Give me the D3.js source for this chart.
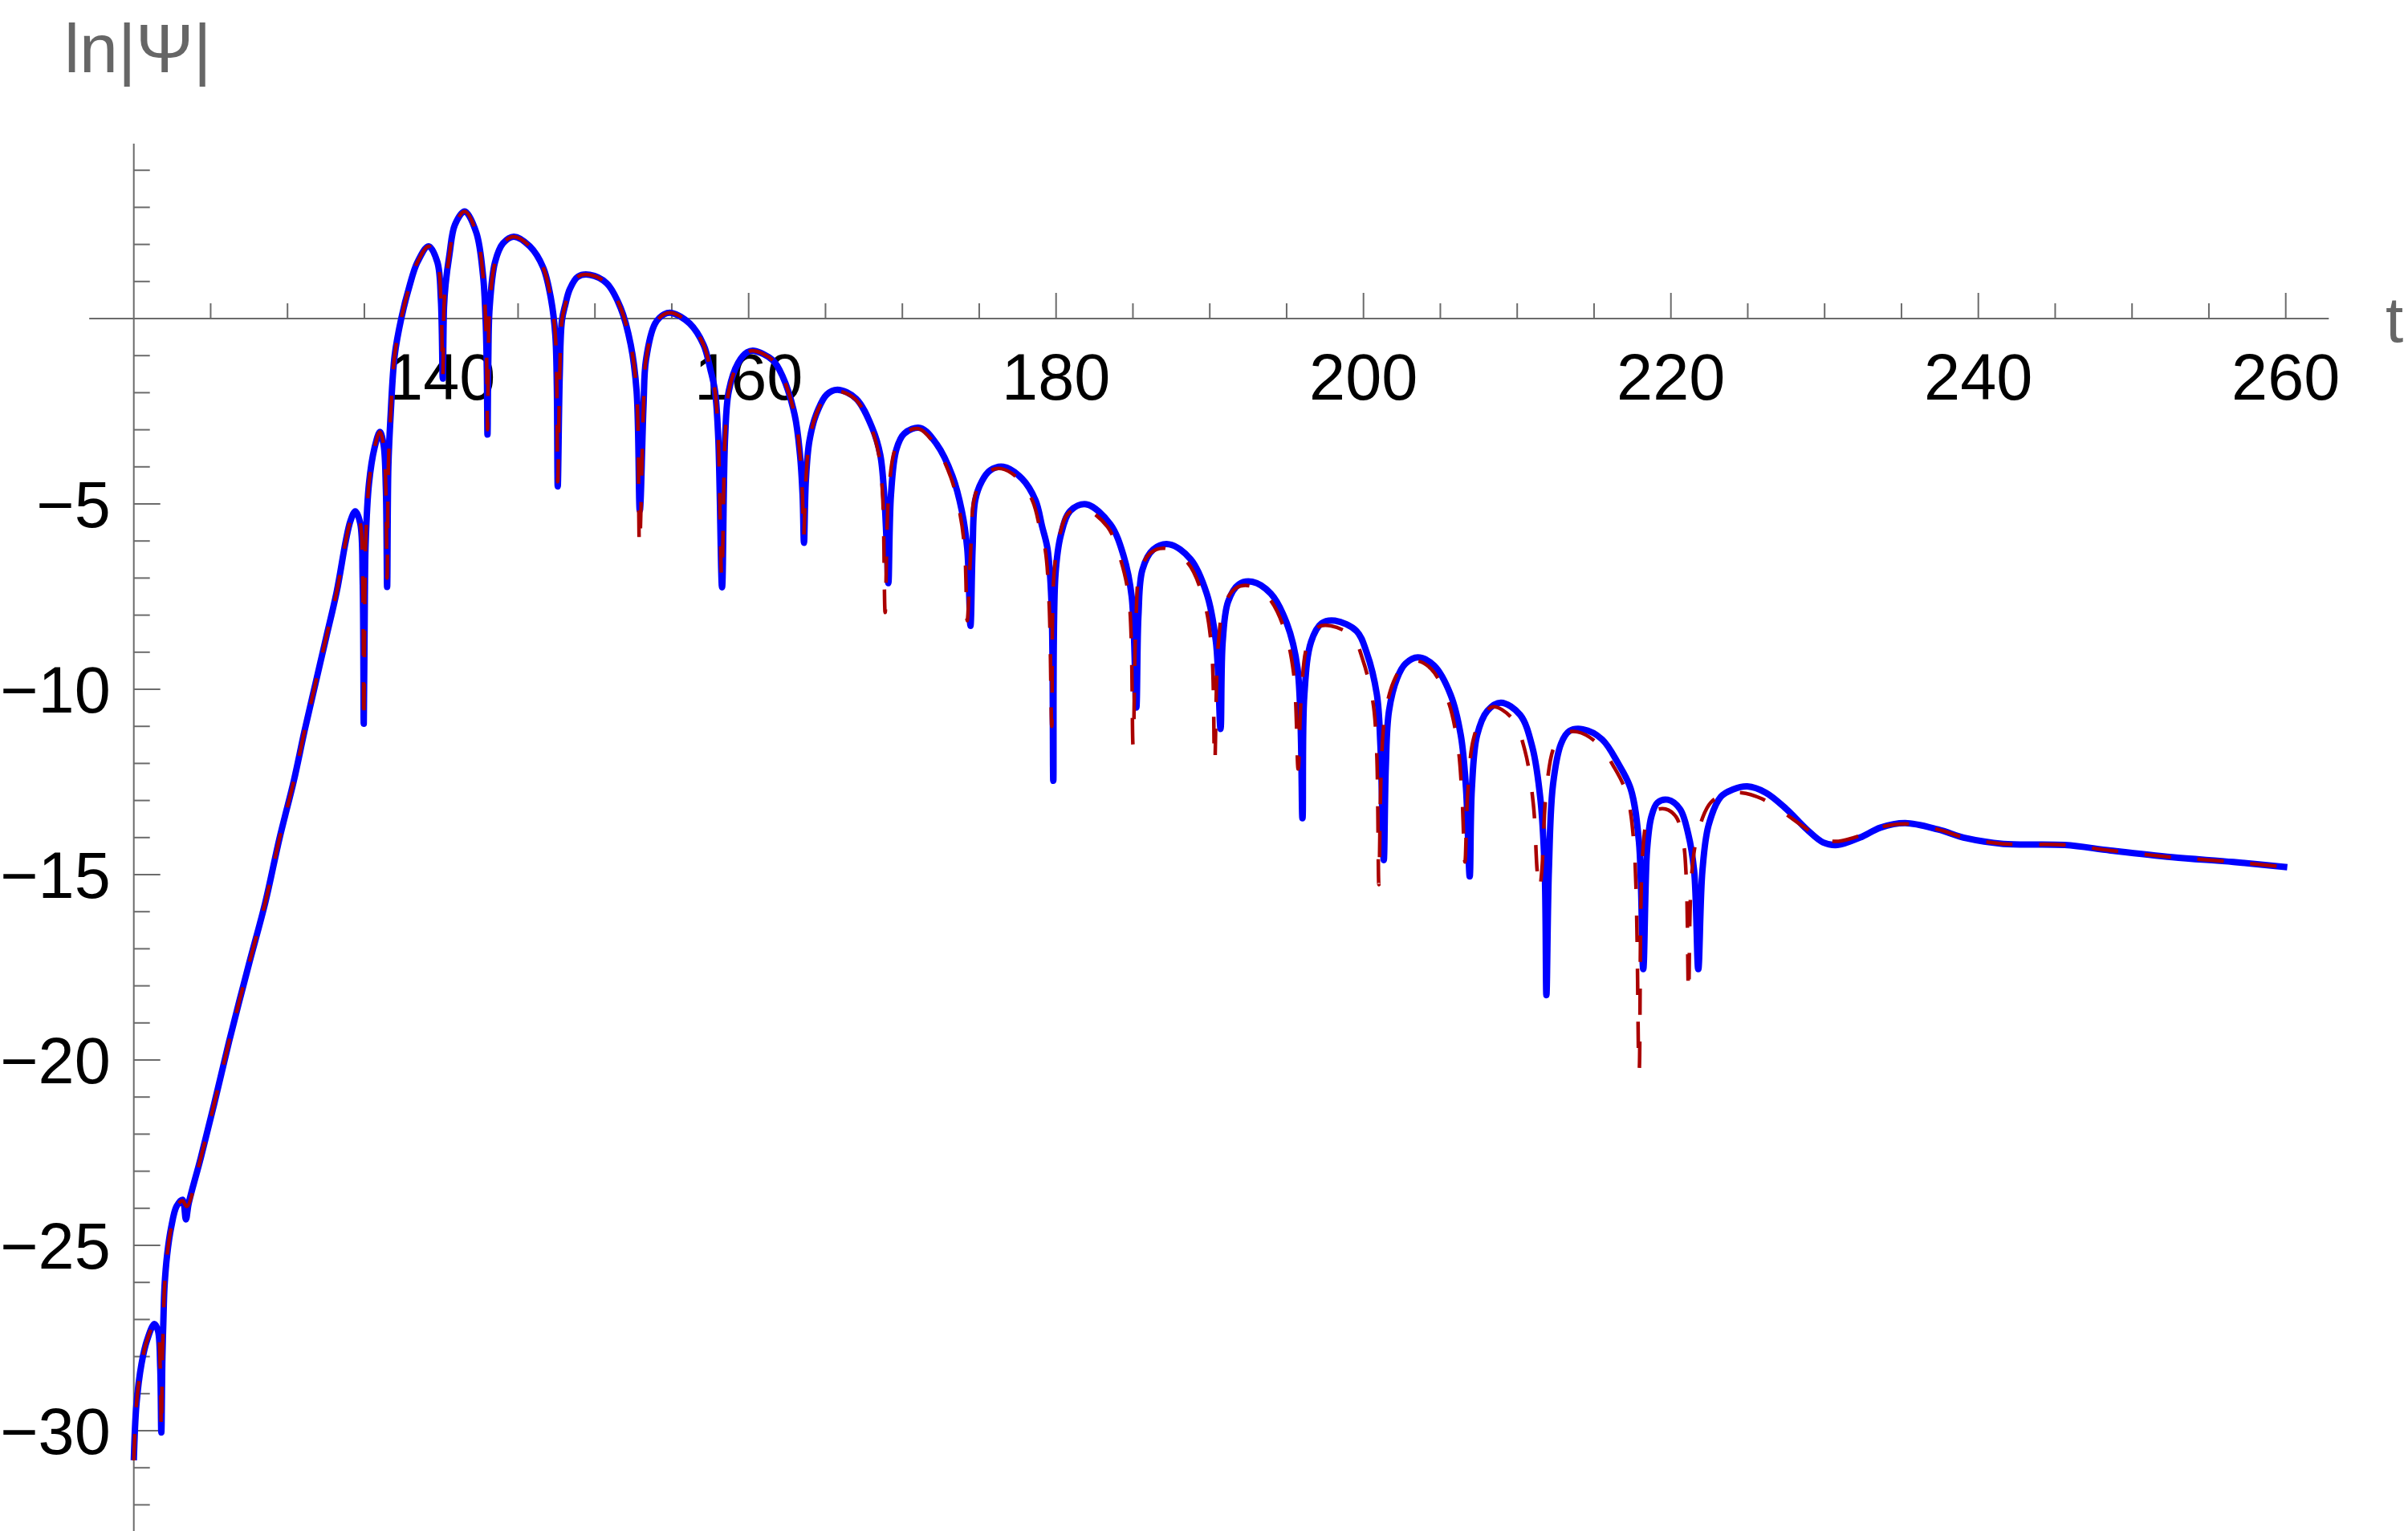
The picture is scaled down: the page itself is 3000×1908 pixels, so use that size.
<!DOCTYPE html>
<html>
<head>
<meta charset="utf-8">
<script src="https://cdn.jsdelivr.net/npm/d3@7"></script>
<style>
  html, body { margin: 0; padding: 0; background: #fff; }
  svg { display: block; }
  text { font-family: "Liberation Sans", Arial, sans-serif; }
</style>
</head>
<body>
<svg id="chart" width="3000" height="1908"></svg>
<script>
// ---- data: [t, ln|Psi|] ----
const blueSeries = [
[120.0,-30.8],[120.17,-29.3],[120.5,-28.2],[120.87,-27.55],[121.34,-27.12],[121.57,-27.3],[121.72,-28.3],[121.79,-30.05],[121.86,-28.0],[121.92,-27.1],
[122.0,-26.1],[122.17,-25.25],[122.43,-24.52],[122.78,-23.95],[123.17,-23.77],[123.39,-24.3],[123.57,-23.87],[124.35,-22.65],[125.22,-21.2],[126.2,-19.5],
[127.5,-17.4],[128.55,-15.76],[129.48,-14.02],[130.41,-12.47],[131.11,-11.12],[131.81,-9.86],[132.51,-8.61],[133.21,-7.35],[133.79,-6.0],[134.1,-5.45],
[134.41,-5.2],[134.73,-5.52],[134.89,-7.06],[134.96,-10.93],[135.03,-7.5],[135.08,-6.1],[135.3,-4.45],[135.66,-3.49],[136.01,-3.06],[136.25,-3.4],
[136.4,-4.6],[136.48,-7.24],[136.56,-4.0],[136.71,-2.59],[136.97,-1.0],[137.4,0.0],[137.93,0.87],[138.45,1.52],[139.18,1.95],[139.75,1.52],
[139.98,0.5],[140.1,-1.62],[140.18,0.3],[140.28,0.9],[140.54,1.74],[140.89,2.53],[141.53,2.89],[142.28,2.32],[142.72,1.16],[142.89,-0.06],
[142.97,-1.5],[143.01,-3.13],[143.06,-1.2],[143.15,0.3],[143.5,1.52],[144.02,2.03],[144.72,2.21],[145.76,1.95],[146.63,1.38],[147.15,0.51],
[147.42,-0.43],[147.52,-1.8],[147.58,-4.53],[147.71,-1.53],[147.85,-0.06],[148.07,0.37],[148.37,0.8],[148.89,1.13],[149.66,1.18],[150.77,0.95],
[151.67,0.29],[152.33,-0.71],[152.71,-1.95],[152.92,-5.18],[153.16,-2.36],[153.32,-1.12],[153.92,-0.13],[154.52,0.12],[155.02,0.15],[156.16,-0.13],
[157.07,-0.71],[157.51,-1.37],[157.81,-1.95],[158.02,-3.19],[158.27,-7.25],[158.47,-3.19],[158.71,-1.95],[159.31,-1.2],[159.91,-0.91],[160.36,-0.87],
[161.56,-1.12],[162.2,-1.55],[162.99,-2.59],[163.34,-3.67],[163.51,-4.76],[163.6,-6.05],[163.72,-4.39],[163.95,-3.31],[164.39,-2.59],[165.08,-2.05],
[165.78,-1.92],[166.99,-2.16],[168.04,-2.95],[168.56,-3.67],[168.82,-4.76],[168.99,-6.2],[169.09,-7.14],[169.26,-4.75],[169.61,-3.53],[170.13,-3.1],
[171.17,-2.95],[172.22,-3.38],[173.26,-4.25],[173.87,-5.19],[174.22,-6.2],[174.43,-8.29],[174.57,-6.2],[174.74,-4.9],[175.17,-4.39],[175.7,-4.1],
[176.57,-4.0],[177.79,-4.32],[178.66,-4.9],[179.1,-5.62],[179.44,-6.2],[179.7,-7.64],[179.82,-12.47],[179.96,-6.92],[180.31,-5.84],[180.92,-5.19],
[181.97,-5.01],[183.53,-5.55],[184.4,-6.41],[184.92,-7.5],[185.22,-10.49],[185.36,-8.0],[185.62,-6.77],[186.32,-6.23],[187.36,-6.09],[188.75,-6.49],
[189.8,-7.42],[190.4,-8.72],[190.7,-11.07],[190.84,-8.72],[191.19,-7.64],[191.89,-7.17],[192.76,-7.1],[193.97,-7.42],[195.01,-8.22],[195.71,-9.44],
[196.03,-13.48],[196.15,-10.17],[196.59,-8.72],[197.28,-8.22],[198.15,-8.15],[199.55,-8.43],[200.2,-9.0],[200.87,-10.14],[201.1,-11.5],[201.32,-14.61],
[201.45,-12.12],[201.66,-10.58],[202.2,-9.69],[202.73,-9.31],[203.53,-9.14],[204.59,-9.36],[205.66,-10.14],[206.33,-11.24],[206.67,-12.68],[206.91,-15.05],
[207.05,-12.68],[207.39,-11.24],[208.06,-10.58],[208.94,-10.36],[210.19,-10.69],[210.99,-11.57],[211.52,-13.0],[211.79,-14.89],[211.9,-18.25],[212.06,-14.89],
[212.33,-12.57],[212.86,-11.46],[213.39,-11.13],[214.27,-11.08],[215.52,-11.35],[216.58,-12.01],[217.38,-12.68],[217.92,-14.11],[218.2,-17.55],[218.45,-14.33],
[218.72,-13.45],[219.12,-13.06],[219.79,-12.98],[220.59,-13.23],[221.12,-13.89],[221.51,-14.89],[221.78,-17.55],[222.05,-14.89],[222.45,-13.67],[223.25,-12.9],
[224.05,-12.7],[224.97,-12.62],[226.18,-12.79],[227.51,-13.23],[228.84,-13.78],[229.9,-14.13],[230.84,-14.2],[232.3,-14.0],[233.64,-13.73],[235.24,-13.61],
[237.37,-13.78],[239.23,-14.02],[241.63,-14.17],[245.62,-14.2],[248.61,-14.35],[252.61,-14.53],[256.6,-14.66],[260.1,-14.8]
];

const redSeries = [
[120.0,-30.8],[120.17,-29.3],[120.5,-28.2],[120.87,-27.55],[121.34,-27.12],[121.57,-27.3],[121.72,-28.3],[121.79,-30.0],[121.86,-28.0],[121.92,-27.1],
[122.0,-26.1],[122.17,-25.25],[122.43,-24.52],[122.78,-23.95],[123.17,-23.8],[123.45,-23.95],[124.35,-22.65],[125.22,-21.2],[126.2,-19.5],[127.5,-17.4],
[128.55,-15.76],[129.48,-14.02],[130.41,-12.47],[131.11,-11.12],[131.81,-9.86],[132.51,-8.61],[133.21,-7.35],[133.79,-6.0],[134.1,-5.45],[134.41,-5.2],
[134.73,-5.52],[134.89,-7.06],[134.96,-10.9],[135.03,-7.5],[135.08,-6.1],[135.3,-4.45],[135.66,-3.49],[136.01,-3.06],[136.25,-3.4],[136.4,-4.6],
[136.48,-7.0],[136.56,-4.0],[136.71,-2.59],[136.97,-1.0],[137.4,0.0],[137.93,0.87],[138.45,1.52],[139.18,1.95],[139.75,1.52],[139.98,0.5],
[140.1,-1.55],[140.18,0.3],[140.28,0.9],[140.54,1.74],[140.89,2.53],[141.53,2.89],[142.28,2.32],[142.72,1.16],[142.89,-0.06],[142.97,-1.5],
[143.01,-3.0],[143.06,-1.2],[143.15,0.3],[143.5,1.52],[144.02,2.03],[144.72,2.21],[145.76,1.95],[146.63,1.38],[147.15,0.51],[147.42,-0.43],
[147.52,-1.8],[147.58,-4.4],[147.71,-1.53],[147.85,-0.06],[148.07,0.37],[148.37,0.8],[148.89,1.13],[149.66,1.18],[150.77,0.95],[151.67,0.29],
[152.33,-0.71],[152.71,-1.95],[152.9,-6.13],[153.16,-2.36],[153.32,-1.12],[153.92,-0.13],[154.52,0.12],[155.02,0.15],[156.16,-0.13],[157.07,-0.71],
[157.51,-1.37],[157.81,-1.95],[158.02,-3.19],[158.25,-7.0],[158.47,-3.19],[158.71,-1.95],[159.31,-1.2],[159.91,-0.91],[160.36,-0.87],[161.56,-1.12],
[162.2,-1.55],[162.99,-2.59],[163.34,-3.67],[163.5,-4.76],[163.58,-5.9],[163.72,-4.39],[163.95,-3.31],[164.39,-2.59],[165.08,-2.07],[165.72,-1.95],
[166.95,-2.18],[168.0,-2.98],[168.48,-3.7],[168.72,-4.8],[168.88,-7.93],[169.1,-4.8],[169.5,-3.55],[170.05,-3.12],[171.05,-2.97],[172.12,-3.4],
[173.15,-4.28],[173.72,-5.2],[174.05,-6.2],[174.22,-8.15],[174.45,-6.2],[174.65,-4.92],[175.05,-4.42],[175.6,-4.13],[176.45,-4.05],[177.65,-4.36],
[178.5,-4.95],[178.95,-5.66],[179.3,-6.25],[179.55,-7.7],[179.72,-11.0],[179.85,-7.0],[180.2,-5.9],[180.8,-5.25],[181.79,-5.12],[183.35,-5.62],
[184.2,-6.5],[184.75,-7.6],[185.01,-11.5],[185.2,-8.1],[185.45,-6.85],[186.15,-6.32],[187.15,-6.2],[188.55,-6.58],[189.55,-7.5],[190.1,-8.8],
[190.32,-11.97],[190.55,-8.8],[190.95,-7.72],[191.7,-7.27],[192.59,-7.21],[193.8,-7.52],[194.8,-8.32],[195.45,-9.55],[195.75,-12.15],[195.95,-10.2],
[196.35,-8.8],[197.05,-8.32],[197.89,-8.29],[199.3,-8.58],[199.95,-9.2],[200.6,-10.3],[200.85,-11.6],[201.0,-15.27],[201.15,-12.2],[201.4,-10.7],
[201.95,-9.8],[202.55,-9.4],[203.4,-9.23],[204.4,-9.45],[205.45,-10.25],[206.1,-11.4],[206.4,-12.8],[206.6,-14.66],[206.78,-12.8],[207.15,-11.35],
[207.8,-10.68],[208.46,-10.47],[209.7,-10.8],[210.5,-11.65],[211.05,-13.1],[211.3,-14.9],[211.45,-15.4],[211.6,-14.9],[211.9,-12.7],[212.4,-11.55],
[213.0,-11.2],[213.92,-11.15],[215.2,-11.45],[216.3,-12.1],[217.1,-12.8],[217.6,-14.2],[217.93,-20.3],[218.15,-14.5],[218.45,-13.55],[218.9,-13.28],
[219.65,-13.23],[220.35,-13.45],[220.8,-14.1],[221.0,-15.1],[221.15,-18.2],[221.35,-15.0],[221.8,-13.8],[222.6,-13.05],[223.5,-12.85],[224.58,-12.79],
[225.9,-12.95],[227.24,-13.3],[228.6,-13.7],[229.9,-14.05],[230.9,-14.1],[232.3,-13.95],[233.64,-13.72],[235.3,-13.63],[237.37,-13.78],[239.23,-14.02],
[241.63,-14.17],[245.62,-14.2],[248.61,-14.35],[252.61,-14.53],[256.6,-14.66],[260.1,-14.8]
];

const xMajorTicks = [140, 160, 180, 200, 220, 240, 260];
const xMinorTicks = [125, 130, 135, 145, 150, 155, 165, 170, 175, 185, 190, 195, 205, 210, 215, 225, 230, 235, 245, 250, 255];
const yMajorTicks = [-5, -10, -15, -20, -25, -30];
const yMinorTicks = [4, 3, 2, 1, -1, -2, -3, -4, -6, -7, -8, -9, -11, -12, -13, -14, -16, -17, -18, -19, -21, -22, -23, -24, -26, -27, -28, -29, -31, -32];
const yLabel = "ln|Ψ|";
const xLabel = "t";

// ---- drawing ----
const svg = d3.select("#chart");
const x = d3.scaleLinear().domain([120, 260]).range([166.7, 2847.7]);
const y = d3.scaleLinear().domain([0, -30]).range([397, 1783]);
const axisColor = "#6b6b6b";
const fmt = d3.format("d");

const gAxes = svg.append("g");
gAxes.append("line").attr("x1", x(117.1)).attr("x2", x(262.8))
  .attr("y1", y(0)).attr("y2", y(0)).attr("stroke", axisColor).attr("stroke-width", 2);
gAxes.append("line").attr("x1", x(120)).attr("x2", x(120))
  .attr("y1", y(4.72)).attr("y2", 1908).attr("stroke", axisColor).attr("stroke-width", 2);

gAxes.selectAll(".xmaj").data(xMajorTicks).join("line")
  .attr("x1", d => x(d)).attr("x2", d => x(d))
  .attr("y1", y(0)).attr("y2", y(0) - 32)
  .attr("stroke", axisColor).attr("stroke-width", 2);
gAxes.selectAll(".xmin").data(xMinorTicks).join("line")
  .attr("x1", d => x(d)).attr("x2", d => x(d))
  .attr("y1", y(0)).attr("y2", y(0) - 19)
  .attr("stroke", axisColor).attr("stroke-width", 2);
gAxes.selectAll(".ymaj").data(yMajorTicks).join("line")
  .attr("x1", x(120)).attr("x2", x(120) + 33)
  .attr("y1", d => y(d)).attr("y2", d => y(d))
  .attr("stroke", axisColor).attr("stroke-width", 2);
gAxes.selectAll(".ymin").data(yMinorTicks).join("line")
  .attr("x1", x(120)).attr("x2", x(120) + 20)
  .attr("y1", d => y(d)).attr("y2", d => y(d))
  .attr("stroke", axisColor).attr("stroke-width", 2);

gAxes.selectAll(".xlab").data(xMajorTicks).join("text")
  .attr("x", d => x(d)).attr("y", y(0) + 101)
  .attr("text-anchor", "middle").attr("font-size", 81).attr("fill", "#000")
  .text(d => fmt(d));
gAxes.selectAll(".ylab").data(yMajorTicks).join("text")
  .attr("x", x(120) - 29).attr("y", d => y(d) + 29)
  .attr("text-anchor", "end").attr("font-size", 81).attr("fill", "#000")
  .text(d => fmt(d));

svg.append("text").attr("x", 80).attr("y", 90).attr("font-size", 86)
  .attr("fill", "#666").text(yLabel);
svg.append("text").attr("x", 2972).attr("y", 426).attr("font-size", 80)
  .attr("fill", "#666").text(xLabel);

const line = d3.line().x(d => x(d[0])).y(d => y(d[1])).curve(d3.curveCatmullRom.alpha(0.5));

svg.append("path").datum(blueSeries).attr("d", line)
  .attr("fill", "none").attr("stroke", "#0000ff").attr("stroke-width", 8)
  .attr("stroke-linejoin", "round");
svg.append("path").datum(redSeries).attr("d", line)
  .attr("fill", "none").attr("stroke", "#aa0000").attr("stroke-width", 4.5)
  .attr("stroke-dasharray", "33,33");
</script>
</body>
</html>
